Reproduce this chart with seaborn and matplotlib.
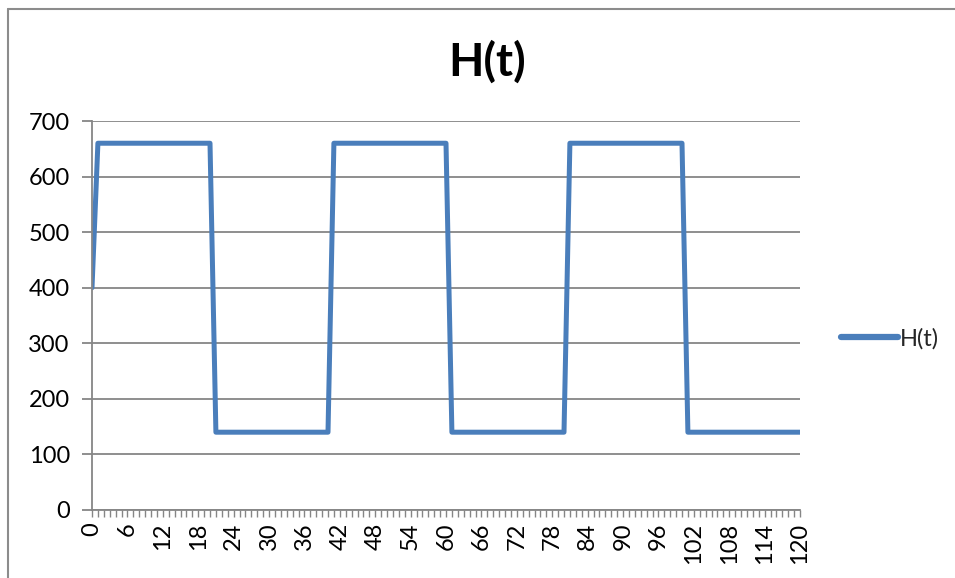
import matplotlib
matplotlib.use("Agg")
import matplotlib.pyplot as plt
from matplotlib.lines import Line2D
from matplotlib.ticker import MultipleLocator
import seaborn as sns
import pandas as pd

# Time steps (categories) and the H(t) series
t = list(range(121))
h_values = [
    400,
    660, 660, 660, 660, 660, 660, 660, 660, 660, 660,
    660, 660, 660, 660, 660, 660, 660, 660, 660, 660,
    140, 140, 140, 140, 140, 140, 140, 140, 140, 140,
    140, 140, 140, 140, 140, 140, 140, 140, 140, 140,
    660, 660, 660, 660, 660, 660, 660, 660, 660, 660,
    660, 660, 660, 660, 660, 660, 660, 660, 660, 660,
    140, 140, 140, 140, 140, 140, 140, 140, 140, 140,
    140, 140, 140, 140, 140, 140, 140, 140, 140, 140,
    660, 660, 660, 660, 660, 660, 660, 660, 660, 660,
    660, 660, 660, 660, 660, 660, 660, 660, 660, 660,
    140, 140, 140, 140, 140, 140, 140, 140, 140, 140,
    140, 140, 140, 140, 140, 140, 140, 140, 140, 140,
]
y_ticks = [0, 100, 200, 300, 400, 500, 600, 700]
x_tick_labels = list(range(0, 121, 6))
series_name = "H(t)"

df = pd.DataFrame({"t": t, "H": h_values})

sns.set_theme(style="white")
plt.rcParams["font.family"] = ["Lato", "DejaVu Sans"]

W, H = 955, 578
fig = plt.figure(figsize=(W / 100, H / 100), dpi=100)
ax = fig.add_axes([92 / W, 1 - 510 / H, (800 - 92) / W, (510 - 121) / H])

line_color = "#4A7EBB"
grid_color = "#868686"
tick_fs = 17

sns.lineplot(data=df, x="t", y="H", ax=ax, color=line_color, linewidth=3.6,
             label=series_name, solid_capstyle="round", solid_joinstyle="round")

ax.set_xlim(0, 120)
ax.set_ylim(0, 700)
ax.set_yticks(y_ticks)
ax.set_yticklabels([str(v) for v in y_ticks])
ax.set_xticks(x_tick_labels)
ax.set_xticklabels([str(v) for v in x_tick_labels], rotation=90)
ax.xaxis.set_minor_locator(MultipleLocator(1))

ax.yaxis.grid(True, color=grid_color, linewidth=1.3)
ax.xaxis.grid(False)
ax.set_axisbelow(True)
ax.set_xlabel("")
ax.set_ylabel("")

for side in ("top", "right"):
    ax.spines[side].set_visible(False)
for side in ("left", "bottom"):
    ax.spines[side].set_color(grid_color)
    ax.spines[side].set_linewidth(1.3)

ax.tick_params(axis="y", which="major", direction="out", length=7, width=1.3,
               color=grid_color, left=True, labelsize=tick_fs, pad=9, labelcolor="black")
ax.tick_params(axis="x", which="both", direction="out", length=5, width=1.0,
               color=grid_color, bottom=True, labelsize=tick_fs, pad=4, labelcolor="black")

fig.text(487 / W, 1 - 62 / H, series_name, fontsize=33, fontweight="bold",
         ha="center", va="center", color="black")

leg = ax.legend(loc="center left", bbox_to_anchor=(841 / W, 1 - 339 / H),
                bbox_transform=fig.transFigure, frameon=False, fontsize=tick_fs,
                handlelength=2.4, handletextpad=0.1, borderaxespad=0, borderpad=0)
leg.get_lines()[0].set_linewidth(4.5)
leg.get_lines()[0].set_solid_capstyle("round")

# Chart-area frame (top and left edges)
fig.add_artist(Line2D([8 / W, 1.0], [1 - 8.5 / H, 1 - 8.5 / H],
                      transform=fig.transFigure, color="#8C8C8C", linewidth=1.5))
fig.add_artist(Line2D([8 / W, 8 / W], [0, 1 - 8.5 / H],
                      transform=fig.transFigure, color="#8C8C8C", linewidth=1.5))

fig.savefig("out.png", dpi=100, facecolor="white")
